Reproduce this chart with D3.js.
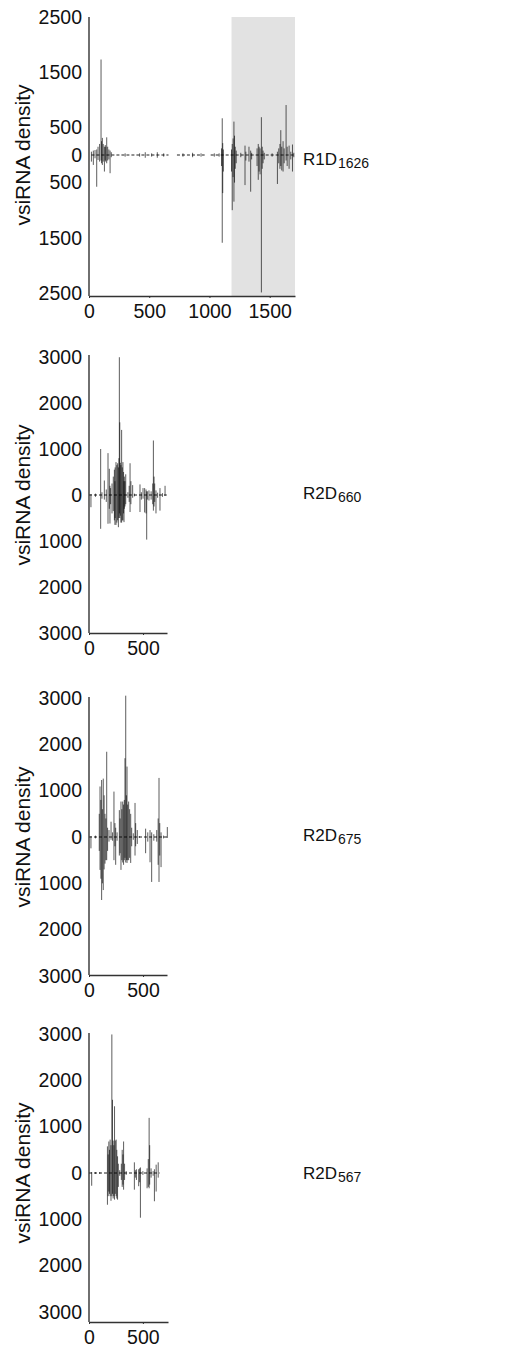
<!DOCTYPE html>
<html>
<head>
<meta charset="utf-8">
<script src="https://cdn.jsdelivr.net/npm/d3@7"></script>
<style>
  body { margin: 0; background: #fff; }
  svg { display: block; font-family: "Liberation Sans", Arial, sans-serif; }
</style>
</head>
<body>
<svg id="chart" width="529" height="1349"></svg>
<script>
// R1D 1626 - positions (nt), sense reads (up), antisense reads (down)
const r1dPos   = [20, 36, 50, 64, 75, 88, 100, 104, 111, 118, 128, 135, 139, 147, 155, 165, 175, 185,
                  300, 420, 467, 520, 567, 620, 780, 860, 930, 1040, 1080,
                  1100, 1106, 1110, 1115, 1183, 1189, 1196, 1203, 1208, 1214, 1222,
                  1260, 1295, 1302, 1328, 1342, 1350, 1395, 1405, 1412, 1420, 1431, 1438, 1445, 1455,
                  1520, 1564, 1575, 1585, 1592, 1600, 1611, 1620, 1636, 1645, 1661, 1675, 1689, 1700];
const r1dSense = [60, 80, 90, 100, 150, 200, 1730, 250, 310, 200, 150, 180, 150, 320, 150, 100, 80, 50,
                  30, 30, 50, 30, 50, 30, 30, 40, 30, 30, 30,
                  120, 665, 215, 100, 100, 200, 300, 605, 350, 150, 80,
                  40, 170, 60, 150, 80, 40, 120, 200, 150, 120, 685, 150, 80, 40,
                  30, 60, 120, 200, 450, 150, 250, 120, 905, 150, 170, 60, 190, 40];
const r1dAnti  = [120, 180, 60, 575, 90, 120, 100, 150, 180, 120, 300, 100, 120, 150, 100, 80, 330, 40,
                  30, 30, 50, 30, 50, 30, 30, 40, 30, 30, 30,
                  200, 1590, 690, 300, 300, 1000, 400, 845, 500, 250, 150,
                  40, 545, 100, 120, 665, 80, 200, 450, 300, 350, 2490, 250, 150, 80,
                  30, 525, 150, 250, 200, 280, 300, 150, 100, 200, 250, 80, 300, 40];
const r1dCover = [[20, 660], [730, 960], [1010, 1705]];
const r1dShade = [1183, 1710];

// R2D 660
const r2d660Pos   = [18, 60, 108, 120, 142, 160, 176, 188, 194, 200, 213, 225, 235, 240, 242, 250, 258, 265, 272, 277,
                     281, 285, 290, 295, 302, 308, 314, 320, 324, 327, 333, 340, 360, 372, 380, 388, 404, 420,
                     472, 485, 500, 515, 528, 534, 540, 555, 575, 590, 596, 602, 608, 620, 635, 657, 680, 704];
const r2d660Sense = [20, 30, 1000, 60, 315, 120, 910, 570, 200, 150, 250, 400, 550, 300, 600, 715, 650, 690, 600, 800,
                     2995, 1580, 700, 650, 1415, 600, 715, 500, 300, 400, 300, 450, 60, 200, 690, 300, 215, 30,
                     230, 60, 150, 150, 120, 80, 80, 100, 80, 250, 1185, 400, 250, 100, 50, 150, 40, 200];
const r2d660Anti  = [265, 40, 735, 80, 100, 150, 625, 300, 620, 200, 400, 350, 550, 650, 500, 650, 600, 550, 700, 500,
                     400, 500, 450, 600, 600, 550, 555, 400, 590, 300, 250, 200, 60, 150, 370, 200, 60, 30,
                     370, 100, 80, 380, 400, 970, 100, 120, 100, 200, 340, 250, 150, 400, 60, 340, 40, 20];
const r2d660Cover = [[0, 720]];

// R2D 675
const r2d675Pos   = [18, 60, 95, 102, 110, 117, 124, 132, 140, 148, 156, 164, 172, 185, 204, 218, 231, 240, 247, 260,
                     281, 288, 296, 304, 312, 320, 327, 333, 340, 346, 352, 358, 367, 376, 386, 395, 410,
                     426, 432, 447, 465, 524, 544, 565, 580, 600, 627, 640, 648, 655, 667, 690, 725];
const r2d675Sense = [20, 30, 500, 1090, 800, 1230, 600, 1260, 900, 500, 400, 1840, 200, 150, 330, 100, 980, 300, 200, 100,
                     580, 400, 765, 600, 765, 700, 800, 1700, 3050, 900, 1520, 700, 765, 600, 500, 200, 80,
                     735, 300, 150, 20, 180, 100, 150, 100, 60, 150, 400, 1275, 300, 100, 30, 215];
const r2d675Anti  = [245, 30, 300, 710, 900, 1360, 1000, 1145, 700, 575, 500, 500, 300, 100, 60, 80, 500, 200, 600, 80,
                     400, 350, 710, 500, 550, 600, 500, 450, 550, 500, 560, 500, 500, 450, 560, 200, 60,
                     400, 200, 150, 20, 350, 100, 545, 970, 80, 100, 600, 970, 400, 650, 30, 20];
const r2d675Cover = [[0, 725]];

// R2D 567
const r2d567Pos   = [25, 60, 100, 171, 178, 184, 190, 196, 204, 212, 218, 224, 230, 237, 244, 252, 258, 265, 272, 285,
                     300, 308, 315, 321, 330, 345, 421, 430, 440, 461, 470, 477, 500, 539, 550, 558, 563, 576, 595,
                     607, 623, 642];
const r2d567Sense = [20, 20, 20, 575, 400, 680, 500, 720, 600, 2990, 1580, 700, 600, 1440, 700, 720, 500, 360, 200, 60,
                     200, 500, 400, 680, 200, 40, 230, 60, 80, 80, 100, 120, 40, 100, 300, 1190, 600, 100, 40,
                     80, 180, 230];
const r2d567Anti  = [275, 20, 20, 685, 500, 400, 450, 500, 600, 500, 450, 550, 500, 575, 450, 500, 550, 575, 300, 60,
                     150, 300, 250, 360, 150, 40, 360, 100, 150, 285, 200, 965, 40, 330, 300, 330, 250, 100, 60,
                     610, 400, 100];
const r2d567Cover = [[0, 655]];

const r1dYTicks = [2500, 1500, 500, 0, -500, -1500, -2500];
const r2dYTicks = [3000, 2000, 1000, 0, -1000, -2000, -3000];
const r1dXTicks = [0, 500, 1000, 1500];
const r2dXTicks = [0, 500];

const panels = [
  { name: "R1D", sub: "1626", pos: r1dPos, sense: r1dSense, anti: r1dAnti, cover: r1dCover, shade: r1dShade,
    xMax: 1710, xRange: [89, 295], yMax: 2500, zero: 155, half: 138, top: 17, bottom: 296,
    yTicks: r1dYTicks, xTicks: r1dXTicks, labelDy: 10 },
  { name: "R2D", sub: "660", pos: r2d660Pos, sense: r2d660Sense, anti: r2d660Anti, cover: r2d660Cover,
    xMax: 722, xRange: [89, 167], yMax: 3000, zero: 495, half: 138, top: 355, bottom: 633,
    yTicks: r2dYTicks, xTicks: r2dXTicks, labelDy: 4 },
  { name: "R2D", sub: "675", pos: r2d675Pos, sense: r2d675Sense, anti: r2d675Anti, cover: r2d675Cover,
    xMax: 722, xRange: [89, 167], yMax: 3000, zero: 837, half: 139, top: 697, bottom: 975,
    yTicks: r2dYTicks, xTicks: r2dXTicks, labelDy: 4 },
  { name: "R2D", sub: "567", pos: r2d567Pos, sense: r2d567Sense, anti: r2d567Anti, cover: r2d567Cover,
    xMax: 733, xRange: [89, 168], yMax: 3000, zero: 1173, half: 139, top: 1033, bottom: 1322,
    yTicks: r2dYTicks, xTicks: r2dXTicks, labelDy: 6 }
];

const svg = d3.select("#chart");
const font = "Liberation Sans, Arial, sans-serif";

panels.forEach((p) => {
  const g = svg.append("g");

  const x = d3.scaleLinear().domain([0, p.xMax]).range(p.xRange);
  const y = d3.scaleLinear().domain([-p.yMax, p.yMax]).range([p.zero + p.half, p.zero - p.half]);

  // shaded region
  if (p.shade) {
    g.append("rect")
      .attr("x", x(p.shade[0]))
      .attr("y", p.top)
      .attr("width", x(p.shade[1]) - x(p.shade[0]))
      .attr("height", p.bottom - p.top)
      .attr("fill", "#e2e2e2");
  }

  // low coverage baseline
  g.selectAll(".cover")
    .data(p.cover)
    .enter()
    .append("line")
    .attr("x1", (d) => x(d[0]))
    .attr("x2", (d) => x(d[1]))
    .attr("y1", y(0))
    .attr("y2", y(0))
    .attr("stroke", "#222")
    .attr("stroke-width", 1.2)
    .attr("stroke-dasharray", "3,2");

  const spikes = p.pos.map((d, i) => ({ pos: d, up: p.sense[i], down: p.anti[i] }));

  // sense reads
  g.selectAll(".up")
    .data(spikes)
    .enter()
    .append("line")
    .attr("x1", (d) => x(d.pos))
    .attr("x2", (d) => x(d.pos))
    .attr("y1", y(0))
    .attr("y2", (d) => y(d.up))
    .attr("stroke", "#000")
    .attr("stroke-opacity", 0.64)
    .attr("stroke-width", 1);

  // antisense reads
  g.selectAll(".down")
    .data(spikes)
    .enter()
    .append("line")
    .attr("x1", (d) => x(d.pos))
    .attr("x2", (d) => x(d.pos))
    .attr("y1", y(0))
    .attr("y2", (d) => y(-d.down))
    .attr("stroke", "#000")
    .attr("stroke-opacity", 0.64)
    .attr("stroke-width", 1);

  // y axis
  const yAxis = g.append("g")
    .attr("transform", `translate(${p.xRange[0]},0)`)
    .call(d3.axisLeft(y).tickValues(p.yTicks).tickFormat((d) => Math.abs(d)).tickSize(0).tickPadding(7));
  yAxis.select(".domain").remove();
  yAxis.selectAll("text").attr("font-size", 19.5).attr("fill", "#111").attr("font-family", font);

  g.append("line")
    .attr("x1", p.xRange[0])
    .attr("x2", p.xRange[0])
    .attr("y1", p.top)
    .attr("y2", p.bottom)
    .attr("stroke", "#333")
    .attr("stroke-width", 1.4);

  // x axis
  const xAxis = g.append("g")
    .attr("transform", `translate(0,${p.bottom})`)
    .call(d3.axisBottom(x).tickValues(p.xTicks).tickFormat(d3.format("d")).tickSize(2).tickSizeOuter(0).tickPadding(6));
  xAxis.select(".domain").attr("stroke", "#333").attr("stroke-width", 1.4);
  xAxis.selectAll(".tick line").attr("stroke", "#333");
  xAxis.selectAll("text").attr("font-size", 19.5).attr("fill", "#111").attr("font-family", font);

  // y label
  g.append("text")
    .attr("transform", `translate(30,${p.zero}) rotate(-90)`)
    .attr("text-anchor", "middle")
    .attr("font-size", 21)
    .attr("fill", "#111")
    .text("vsiRNA density");

  // sample label
  const lab = g.append("text")
    .attr("x", 303)
    .attr("y", p.zero + p.labelDy)
    .attr("font-size", 17)
    .attr("fill", "#111")
    .text(p.name);
  lab.append("tspan")
    .attr("dx", 1)
    .attr("dy", 3)
    .attr("font-size", 14)
    .text(p.sub);
});
</script>
</body>
</html>
